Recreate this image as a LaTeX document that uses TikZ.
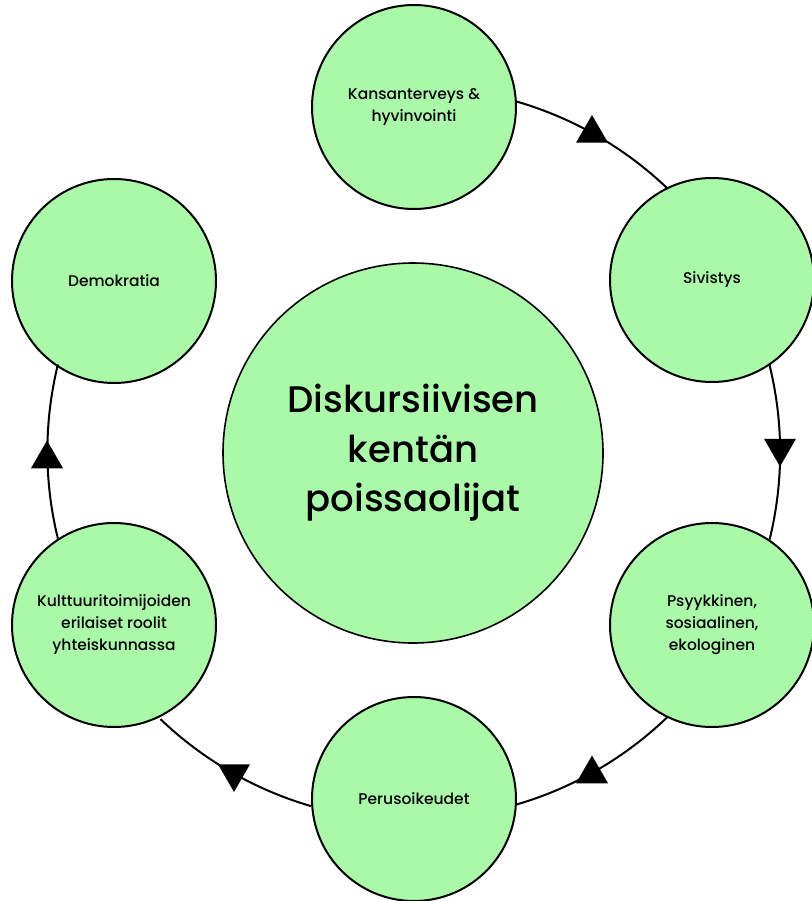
\documentclass[tikz,border=0pt]{standalone}
\usepackage{fontspec}
\setmainfont{Poppins Medium}
\usetikzlibrary{shapes.geometric}
\definecolor{nodegreen}{RGB}{170,249,168}
\begin{document}
\begin{tikzpicture}[x=1pt,y=1pt,
  outer/.style={circle,draw=black,line width=2pt,fill=nodegreen,minimum size=204pt,inner sep=0pt,align=center,font=\fontsize{15.5}{22}\selectfont},
  centre/.style={circle,draw=black,line width=1.6pt,fill=nodegreen,minimum size=380pt,inner sep=0pt,align=center,font=\fontsize{37}{49.5}\selectfont},
  ringarc/.style={draw=black,line width=2pt},
  tri/.style={regular polygon,regular polygon sides=3,fill=black,draw=none,minimum size=37pt,inner sep=0pt,outer sep=0pt},
  tridown/.style={tri,shape border rotate=180}]
\useasboundingbox (0,0) rectangle (811,-901);
\coordinate (ring) at (414,-453);
% nodes
\node[centre] (c) at (413,-453) {Diskursiivisen\\kentän\\poissaolijat};
\node[outer] (kans) at (414,-107) {Kansanterveys \&\\hyvinvointi};
\node[outer] (siv) at (712,-280) {Sivistys};
\node[outer] (psy) at (712,-625) {Psyykkinen,\\sosiaalinen,\\ekologinen};
\node[outer] (per) at (414,-799) {Perusoikeudet};
\node[outer] (kult) at (114,-625) {Kulttuuritoimijoiden\\erilaiset roolit\\yhteiskunnassa};
\node[outer] (dem) at (114,-281) {Demokratia};
% connectors (arcs of the ring)
\draw[ringarc] (kans.3.1) arc[start angle=73.8,end angle=46.2,radius=365];
\draw[ringarc] (siv.-56.9) arc[start angle=13.8,end angle=-13.8,radius=365];
\draw[ringarc] (psy.-116.9) arc[start angle=-46.2,end angle=-73.8,radius=365];
\draw[ringarc] (per.-176.9) arc[start angle=-106.2,end angle=-133.8,radius=365];
\draw[ringarc] (kult.123.1) arc[start angle=-166.2,end angle=-193.8,radius=365];
% arrow heads
\node[tri] (a1) at (592,-133.5) {};
\node[tridown] (a2) at (780,-448) {};
\node[tri] (a3) at (592,-774) {};
\node[tridown] (a4) at (234,-773.5) {};
\node[tri] (a5) at (47,-459) {};
\end{tikzpicture}
\end{document}
